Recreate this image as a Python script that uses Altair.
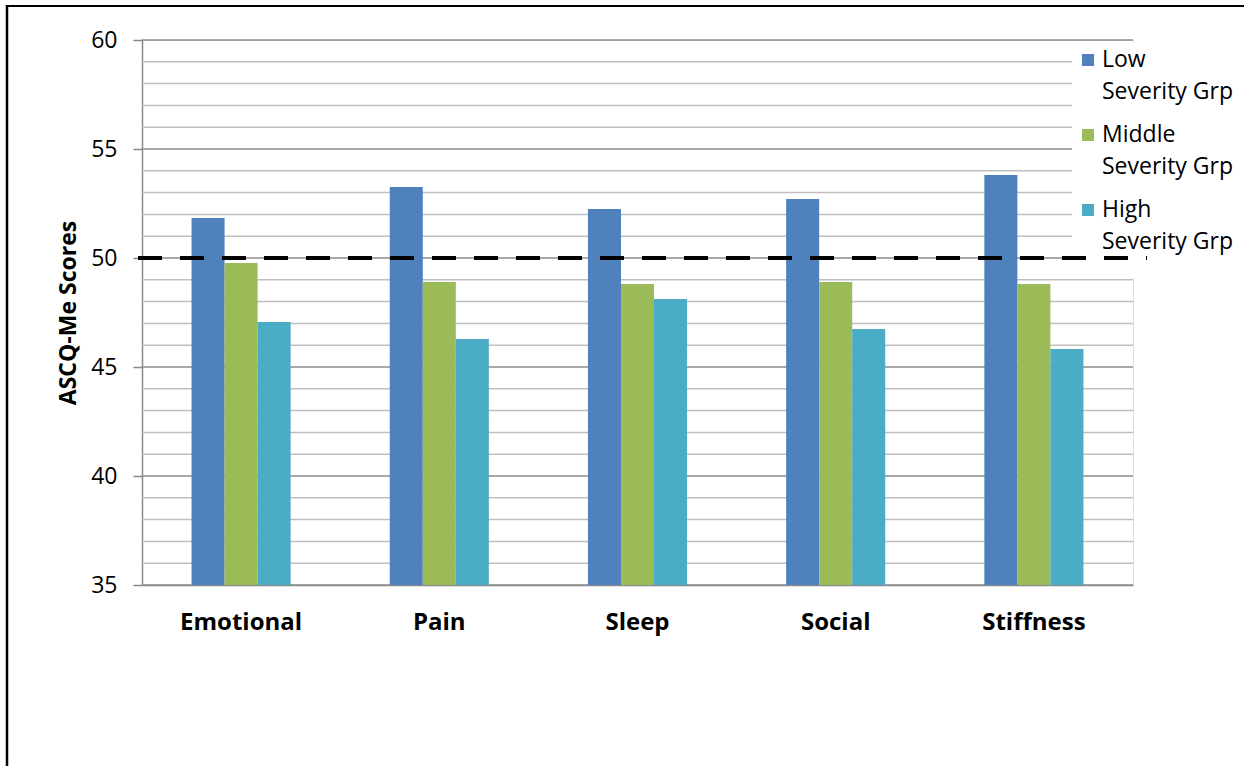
import altair as alt
import pandas as pd

categories = ["Emotional", "Pain", "Sleep", "Social", "Stiffness"]
groups = ["Low Severity Grp", "Middle Severity Grp", "High Severity Grp"]
low = [51.83, 53.26, 52.25, 52.71, 53.81]
middle = [49.77, 48.90, 48.81, 48.90, 48.81]
high = [47.06, 46.28, 48.12, 46.74, 45.83]
colors = ["#4F81BD", "#9BBB59", "#4BACC6"]
legend_line1 = ["Low", "Middle", "High"]
legend_line2 = ["Severity Grp", "Severity Grp", "Severity Grp"]
reference_value = [50]
major_ticks = [35, 40, 45, 50, 55, 60]
minor_ticks = [v for v in range(35, 61) if v % 5 != 0]
y_min, y_max = 35, 60

FONT = "Open Sans"
LEFT, TOP = 142, 40
W, H = 991, 545

rows = []
for i, c in enumerate(categories):
    for g, vals in zip(groups, [low, middle, high]):
        rows.append({"category": c, "group": g, "score": vals[i]})
df = pd.DataFrame(rows)

legend_df = pd.DataFrame({"group": groups, "line1": legend_line1, "line2": legend_line2})
ref_df = pd.DataFrame({"score": reference_value})
major_df = pd.DataFrame({"score": major_ticks})
minor_df = pd.DataFrame({"score": minor_ticks})
one = pd.DataFrame({"k": [0]})

color_scale = alt.Scale(domain=groups, range=colors)
y_scale = alt.Scale(domain=[y_min, y_max], nice=False, zero=False)

minor_grid = alt.Chart(minor_df).mark_rule(color="#bfbfbf", strokeWidth=1.5).encode(
    y=alt.Y("score:Q", scale=y_scale)
)
major_grid = alt.Chart(major_df).mark_rule(color="#8c8c8c", strokeWidth=1.5).encode(
    y=alt.Y("score:Q", scale=y_scale)
)

bars = alt.Chart(df).mark_bar().encode(
    x=alt.X("category:N", sort=categories,
            scale=alt.Scale(paddingInner=0.5, paddingOuter=0.25),
            axis=alt.Axis(title=None, labelAngle=0, labelFont=FONT, labelFontSize=24,
                          labelFontWeight="bold", labelColor="#000", ticks=False,
                          domainColor="#888", domainWidth=1.5, labelPadding=25)),
    xOffset=alt.XOffset("group:N", sort=groups, scale=alt.Scale(paddingInner=0, paddingOuter=0)),
    y=alt.Y("score:Q", scale=y_scale,
            axis=alt.Axis(values=major_ticks, grid=False, labelOverlap=False,
                          labelFont=FONT, labelFontSize=23, labelColor="#000",
                          labelPadding=16, tickSize=9, tickColor="#888", tickWidth=1.5,
                          domainColor="#888", domainWidth=1.5,
                          title="ASCQ-Me Scores", titleFont=FONT, titleFontSize=23,
                          titleFontWeight="bold", titleColor="#000",
                          titleX=-74, titleY=H / 2, titleAngle=270,
                          titleAlign="center", titleBaseline="middle")),
    y2=alt.datum(y_min),
    color=alt.Color("group:N", scale=color_scale, legend=None),
)

legend_bg = alt.Chart(one).mark_rect(color="white").encode(
    x=alt.value(1072 - LEFT), x2=alt.value(1244 - LEFT), y=alt.value(3), y2=alt.value(238)
)

ref_line = alt.Chart(ref_df).mark_rule(color="black", strokeWidth=4, strokeDash=[24, 18]).encode(
    y=alt.Y("score:Q", scale=y_scale), x=alt.value(-4), x2=alt.value(1147 - LEFT)
)

main = alt.layer(minor_grid, major_grid, bars, legend_bg, ref_line)

leg_y = alt.Y("group:N", sort=groups, scale=alt.Scale(domain=groups, range=[20, 170], padding=0), axis=None)

leg_sq = alt.Chart(legend_df).mark_square(size=144, opacity=1).encode(
    x=alt.value(1088 - LEFT), y=leg_y,
    color=alt.Color("group:N", scale=color_scale, legend=None),
)
leg_t1 = alt.Chart(legend_df).mark_text(align="left", baseline="middle", font=FONT, fontSize=23, color="#000").encode(
    x=alt.value(1102 - LEFT), y=leg_y, text="line1:N"
)
leg_t2 = alt.Chart(legend_df).mark_text(align="left", baseline="middle", font=FONT, fontSize=23, color="#000", dy=32).encode(
    x=alt.value(1102 - LEFT), y=leg_y, text="line2:N"
)
legend_layer = alt.layer(leg_sq, leg_t1, leg_t2)

frame_top = alt.Chart(one).mark_rule(color="black", strokeWidth=2).encode(
    x=alt.value(6 - LEFT), x2=alt.value(1250 - LEFT), y=alt.value(6 - TOP)
)
frame_left = alt.Chart(one).mark_rule(color="black", strokeWidth=2.5).encode(
    x=alt.value(7 - LEFT), y=alt.value(5 - TOP), y2=alt.value(770 - TOP)
)

chart = alt.layer(
    main, legend_layer, frame_top, frame_left
).resolve_scale(y="independent").properties(
    width=W, height=H,
    autosize=alt.AutoSizeParams(type="none"),
    padding={"left": LEFT, "top": TOP, "right": 1244 - LEFT - W, "bottom": 766 - TOP - H},
).configure_view(stroke=None).configure(background="white")

chart.save("out.html", embed_options={"renderer": "svg", "actions": False})
